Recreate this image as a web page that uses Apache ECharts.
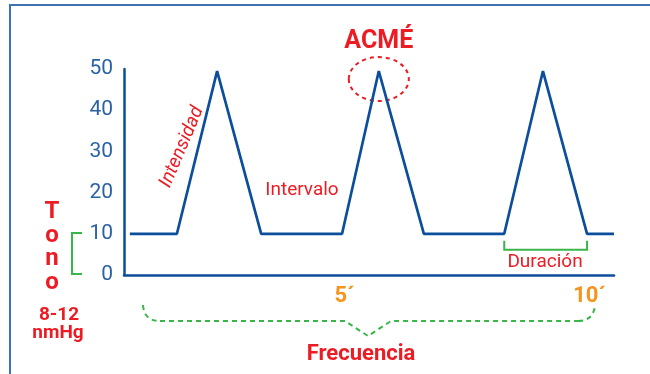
<!DOCTYPE html>
<html><head><meta charset="utf-8">
<script src="https://cdn.jsdelivr.net/npm/echarts@6/dist/echarts.min.js"></script>
<style>html,body{margin:0;padding:0;background:#fff}#c{width:650px;height:374px}</style>
</head><body><div id="c"></div>
<script>
// Data (time in minutes, pressure in mmHg)
const timeMin = [0.62, 1.58, 2.40, 3.30, 4.95, 5.70, 6.62, 8.26, 9.05, 9.95, 10.5];
const pressure = [10, 10, 49.5, 10, 10, 49.5, 10, 10, 49.5, 10, 10];
const yTicks = [0, 10, 20, 30, 40, 50];
const xLabelValues = [5, 10];

const RED = '#ed1c24', GREEN = '#3ab54a', ORANGE = '#f7941d', BLUE = '#0c4e9b', TICK = '#2a62a6';
const FONT = 'Roboto';

const chart = echarts.init(document.getElementById('c'));
chart.setOption({
  animation: false,
  grid: { left: 124, right: 36, top: 69, bottom: 99, containLabel: false },
  xAxis: {
    type: 'value', min: 0.5, max: 10.5,
    splitLine: { show: false },
    axisLine: { lineStyle: { color: BLUE, width: 2.5 } },
    axisTick: { show: false },
    axisLabel: {
      customValues: xLabelValues, margin: 10,
      color: ORANGE, fontFamily: FONT, fontWeight: 'bold', fontSize: 22,
      formatter: v => v + '\u00b4'
    }
  },
  yAxis: {
    type: 'value', min: 0, max: 50, interval: 10,
    splitLine: { show: false },
    axisLine: { show: true, lineStyle: { color: BLUE, width: 2.5 } },
    axisTick: { show: false },
    axisLabel: { color: TICK, fontFamily: FONT, fontSize: 21, margin: 11,
      customValues: yTicks }
  },
  series: [{
    type: 'line', symbol: 'none',
    data: timeMin.map((t, i) => [t, pressure[i]]),
    lineStyle: { color: BLUE, width: 2.7 }
  }]
});

const peak = chart.convertToPixel({gridIndex: 0}, [timeMin[5], pressure[5]]);
const dA = chart.convertToPixel({gridIndex: 0}, [timeMin[7], pressure[7]]);
const dB = chart.convertToPixel({gridIndex: 0}, [timeMin[9], pressure[9]]);

const txt = (x, y, text, size, color, weight) => ({
  type: 'text', x: x, y: y,
  style: { text: text, fill: color, font: (weight || 'normal') + ' ' + size + 'px ' + FONT,
    textAlign: 'center', textVerticalAlign: 'middle' }
});
const dashGreen = { stroke: GREEN, lineWidth: 2, fill: null, lineDash: [5, 4] };

chart.setOption({
  graphic: [
    // frame
    { type: 'polyline', shape: { points: [[10, 400], [10, 5], [700, 5]] },
      style: { stroke: '#3d72b4', lineWidth: 2, fill: null } },
    // ACME
    txt(peak[0], 42, 'ACMÉ', 25, RED, 'bold'),
    { type: 'ellipse', shape: { cx: peak[0], cy: peak[1] + 8, rx: 30, ry: 22 },
      style: { fill: null, stroke: RED, lineWidth: 2, lineDash: [4, 4] } },
    // Intensidad
    { type: 'text', x: 182, y: 147, rotation: 67 * Math.PI / 180,
      style: { text: 'Intensidad', fill: RED, font: 'italic 19px ' + FONT,
        textAlign: 'center', textVerticalAlign: 'middle' } },
    txt(302, 190, 'Intervalo', 19, RED),
    // Duración
    { type: 'polyline', shape: { points: [[dA[0], dA[1] + 7], [dA[0], dA[1] + 16], [dB[0], dB[1] + 16], [dB[0], dB[1] + 7]] },
      style: { stroke: GREEN, lineWidth: 2, fill: null } },
    txt(545, 262, 'Duración', 19, RED),
    // Tono
    txt(52, 212, 'T', 24, RED, 'bold'),
    txt(52, 236, 'o', 24, RED, 'bold'),
    txt(52, 259, 'n', 24, RED, 'bold'),
    txt(52, 283, 'o', 24, RED, 'bold'),
    { type: 'polyline', shape: { points: [[82, 233], [72, 233], [72, 274], [82, 274]] },
      style: { stroke: GREEN, lineWidth: 2, fill: null } },
    txt(59, 315, '8-12', 19, RED, 'bold'),
    txt(58, 333, 'nmHg', 19, RED, 'bold'),
    // Frecuencia brace
    { type: 'bezierCurve', shape: { x1: 143, y1: 305, x2: 160, y2: 321, cpx1: 144, cpy1: 321 }, style: dashGreen },
    { type: 'polyline', shape: { points: [[160, 321], [345, 321], [368, 336], [391, 321], [578, 321]] }, style: dashGreen },
    { type: 'bezierCurve', shape: { x1: 578, y1: 321, x2: 595, y2: 306, cpx1: 593, cpy1: 321 }, style: dashGreen },
    txt(361, 354, 'Frecuencia', 22, RED, 'bold')
  ]
});
</script></body></html>
